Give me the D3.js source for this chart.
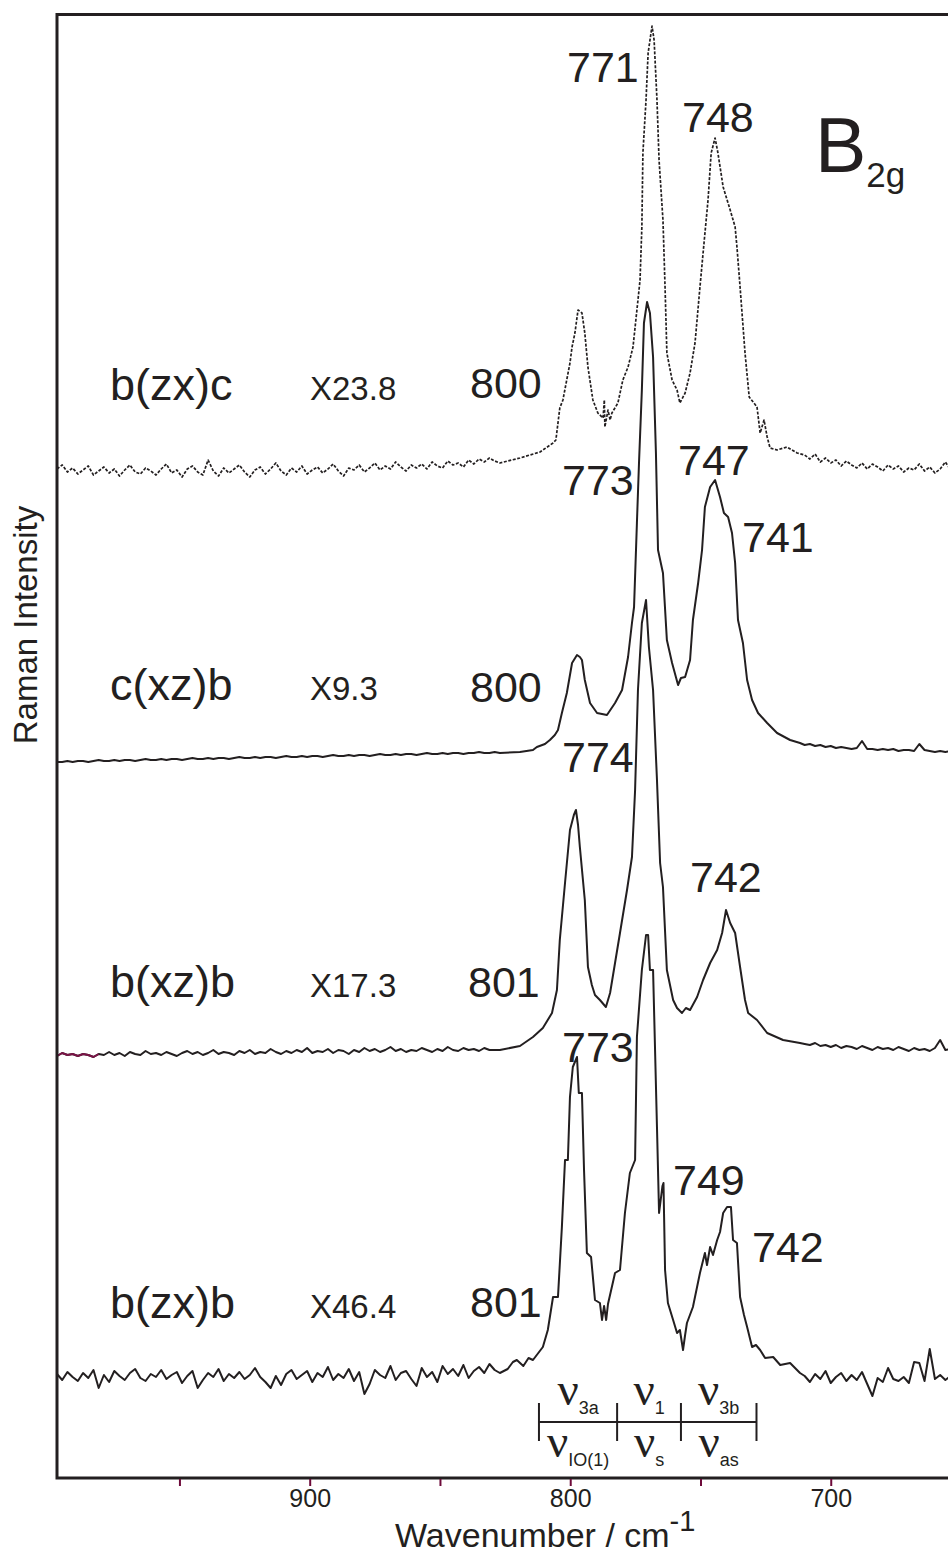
<!DOCTYPE html>
<html>
<head>
<meta charset="utf-8">
<script src="https://cdn.jsdelivr.net/npm/d3@7"></script>
<style>
  body { margin: 0; background: #fff; }
  svg { display: block; font-family: "Liberation Sans", Arial, sans-serif; }
</style>
</head>
<body>
<svg id="chart" width="948" height="1553"></svg>
<script>
// Grilles de nombres d'onde (cm-1) pour les parties plates des spectres
const gridLeft = [997, 995, 993, 991, 989, 987, 985, 983, 981, 979, 977, 975, 973, 971, 969, 967, 965, 963, 961, 959,
  957, 955, 953, 951, 949, 947, 945, 943, 941, 939, 937, 935, 933, 931, 929, 927, 925, 923, 921, 919,
  917, 915, 913, 911, 909, 907, 905, 903, 901, 899, 897, 895, 893, 891, 889, 887, 885, 883, 881, 879,
  877, 875, 873, 871, 869, 867, 865, 863, 861, 859, 857, 855, 853, 851, 849, 847, 845, 843, 841, 839,
  837, 835, 833, 831, 829];
const gridRight = [710, 708, 706, 704, 702, 700, 698, 696, 694, 692, 690, 688, 686, 684, 682, 680, 678, 676, 674, 672,
  670, 668, 666, 664, 662, 660, 658, 656, 654, 652, 650];

// b(zx)c  X23.8 (pointillés)
const zxcLeft = [100.9, 101.3, 100.6, 101.0, 100.4, 100.8, 101.2, 100.3, 100.7, 101.1,
  100.5, 100.9, 100.2, 100.8, 101.3, 100.6, 100.4, 101.0, 100.7, 100.3,
  100.9, 101.4, 100.5, 100.8, 100.1, 100.9, 101.2, 100.6, 100.3, 101.8,
  100.7, 100.2, 101.0, 100.5, 100.9, 101.3, 100.6, 100.1, 100.8, 101.1,
  100.4, 100.9, 101.5, 100.7, 100.3, 101.0, 100.6, 101.2, 100.4, 100.8,
  101.1, 100.5, 100.9, 101.4, 100.7, 100.2, 101.0, 100.8, 101.3, 100.6,
  101.0, 101.5, 100.8, 101.2, 100.9, 101.6, 101.1, 100.7, 101.3, 101.0,
  101.4, 100.9, 101.6, 101.2, 101.0, 101.7, 101.3, 101.5, 101.1, 101.8,
  101.4, 101.9, 101.6, 102.0, 101.7];
const zxcPeaks = [[827.0, 101.5], [819.3, 102.0], [811.6, 102.6], [806.6, 103.5], [805.5, 103.8], [804.0, 107.0],
  [802.8, 107.8], [800.1, 111.5], [799.3, 113.1], [798.2, 114.5], [797.0, 116.8], [795.5, 116.5], [794.4, 114.5],
  [793.2, 111.1], [791.3, 107.8], [789.4, 106.5], [787.4, 106.0], [786.9, 107.8], [786.7, 105.1], [785.5, 106.8],
  [784.7, 105.8], [784.0, 106.5], [781.7, 107.5], [779.8, 109.8], [777.8, 111.1], [775.9, 113.1], [774.4, 116.8],
  [773.2, 119.8], [772.5, 125.1], [772.1, 132.5], [770.9, 137.8], [770.1, 142.5], [768.6, 145.2], [767.8, 143.8],
  [766.7, 137.8], [765.9, 131.8], [764.4, 125.8], [763.6, 119.1], [762.9, 112.5], [760.9, 109.8], [759.0, 108.8],
  [757.9, 107.5], [755.9, 108.5], [754.0, 110.5], [752.1, 113.5], [750.2, 119.1], [749.0, 122.5], [747.1, 127.8],
  [745.9, 132.5], [744.4, 134.0], [743.3, 132.5], [741.3, 129.1], [738.6, 126.8], [736.7, 125.1], [736.0, 123.1],
  [734.8, 119.1], [732.9, 112.5], [731.3, 108.1], [728.3, 107.1], [727.1, 104.5], [725.6, 105.8], [724.4, 104.1],
  [723.3, 103.0], [720.6, 102.8], [716.8, 103.1], [712.9, 102.5]];
const zxcRight = [102.3, 101.9, 102.4, 101.6, 102.0, 101.5, 101.8, 101.2, 101.7, 101.3,
  101.0, 101.5, 100.9, 101.4, 101.1, 100.7, 101.3, 100.9, 101.2, 100.6,
  101.0, 100.8, 101.4, 100.7, 101.1, 100.5, 100.9, 101.6, 100.8, 101.0, 100.7];

// c(xz)b  X9.3
const xzcLeft = [71.6, 71.6, 71.7, 71.6, 71.7, 71.7, 71.6, 71.7, 71.8, 71.7,
  71.7, 71.8, 71.7, 71.8, 71.8, 71.7, 71.8, 71.9, 71.8, 71.8,
  71.9, 71.8, 71.9, 71.9, 71.8, 71.9, 72.0, 71.9, 71.9, 72.0,
  71.9, 72.0, 72.0, 71.9, 72.0, 72.1, 72.0, 72.0, 72.1, 72.0,
  72.1, 72.1, 72.0, 72.1, 72.2, 72.1, 72.1, 72.2, 72.1, 72.2,
  72.2, 72.1, 72.2, 72.3, 72.2, 72.2, 72.3, 72.2, 72.3, 72.3,
  72.2, 72.3, 72.4, 72.3, 72.3, 72.4, 72.3, 72.4, 72.4, 72.3,
  72.4, 72.5, 72.4, 72.4, 72.5, 72.4, 72.5, 72.5, 72.4, 72.5,
  72.5, 72.6, 72.5, 72.5, 72.6];
const xzcPeaks = [[827.0, 72.5], [819.3, 72.6], [814.3, 72.8], [812.8, 73.1], [809.7, 73.4], [807.8, 73.8],
  [805.9, 74.3], [804.7, 74.8], [803.2, 76.5], [801.3, 78.5], [799.3, 81.5], [797.4, 82.3], [796.3, 82.1],
  [795.5, 81.8], [794.4, 79.8], [792.4, 77.5], [789.7, 76.5], [785.9, 76.3], [782.8, 77.5], [780.1, 78.8],
  [777.8, 82.1], [776.3, 85.5], [775.5, 87.1], [774.4, 95.5], [773.6, 101.5], [772.5, 108.8], [771.7, 115.5],
  [770.5, 117.6], [769.4, 116.5], [768.2, 112.1], [767.1, 102.5], [766.3, 92.8], [764.4, 90.5], [762.9, 83.8],
  [760.9, 81.5], [758.6, 79.3], [757.5, 80.0], [755.9, 80.1], [754.0, 81.8], [752.9, 85.8], [750.9, 89.5],
  [749.4, 92.8], [748.3, 97.1], [746.3, 99.1], [744.4, 99.8], [742.5, 98.1], [741.0, 96.5], [739.4, 96.1],
  [737.9, 94.5], [736.7, 91.5], [735.6, 85.8], [733.7, 83.5], [732.1, 79.8], [730.2, 77.8], [727.9, 76.5],
  [724.4, 75.5], [720.6, 74.5], [715.6, 73.8], [711.8, 73.5]];
const xzcRight = [73.3, 73.4, 73.2, 73.3, 73.1, 73.2, 73.0, 73.1, 73.0, 72.9,
  73.0, 73.7, 72.9, 72.9, 72.8, 72.9, 72.8, 72.9, 72.7, 72.8,
  72.8, 72.7, 73.4, 72.8, 72.7, 72.6, 72.7, 72.6, 72.7, 72.6, 72.6];

// b(xz)b  X17.3
const xzbLeft = [42.2, 42.5, 42.3, 42.4, 42.2, 42.4, 42.3, 42.1, 42.4, 42.3,
  42.6, 42.3, 42.5, 42.2, 42.6, 42.4, 42.3, 42.7, 42.4, 42.5,
  42.3, 42.6, 42.4, 42.2, 42.5, 42.7, 42.4, 42.6, 42.3, 42.5,
  42.8, 42.4, 42.6, 42.5, 42.3, 42.7, 42.5, 42.8, 42.4, 42.6,
  42.5, 42.9, 42.6, 42.4, 42.7, 42.5, 42.8, 42.6, 43.0, 42.5,
  42.7, 42.6, 42.9, 42.5, 42.8, 42.7, 42.4, 42.8, 42.6, 43.0,
  42.7, 42.9, 42.6, 42.8, 43.1, 42.7, 42.9, 42.6, 42.8, 42.7,
  43.0, 42.8, 42.6, 42.9, 42.7, 43.1, 42.8, 42.7, 43.0, 42.8,
  42.9, 42.7, 43.0, 42.8, 42.8];
const xzbPeaks = [[827.0, 42.8], [819.3, 43.2], [814.3, 44.1], [810.5, 45.0], [807.0, 46.5], [805.1, 48.8],
  [804.0, 53.8], [802.0, 59.5], [800.1, 64.8], [798.6, 66.3], [797.8, 66.8], [797.0, 65.3], [796.3, 63.1],
  [794.4, 57.8], [793.2, 51.1], [791.7, 49.3], [790.5, 48.3], [788.6, 47.8], [786.3, 47.1], [784.7, 48.5],
  [782.8, 51.5], [780.9, 54.5], [778.2, 58.8], [776.3, 62.1], [775.1, 68.8], [774.0, 78.8], [772.5, 85.5],
  [770.9, 87.8], [769.8, 83.1], [768.2, 78.8], [766.7, 69.8], [765.5, 61.5], [764.4, 59.1], [762.9, 50.8],
  [760.5, 47.8], [759.0, 47.0], [757.1, 46.5], [755.6, 47.0], [754.0, 46.8], [751.3, 48.1], [749.0, 49.8],
  [746.3, 51.5], [743.6, 52.8], [741.7, 54.5], [740.2, 56.8], [738.6, 55.5], [736.7, 54.5], [734.8, 51.1],
  [732.9, 47.8], [731.7, 46.5], [728.3, 45.8], [724.4, 44.5], [718.3, 43.8], [711.8, 43.5]];
const xzbRight = [43.4, 43.3, 43.5, 43.2, 43.3, 43.1, 43.3, 43.0, 43.2, 43.1,
  42.9, 43.2, 43.0, 42.8, 43.1, 42.9, 43.0, 42.8, 43.1, 42.9,
  42.7, 43.0, 42.8, 42.9, 42.7, 43.0, 43.8, 42.8, 42.9, 42.7, 42.8];

// b(zx)b  X46.4
const zxbLeft = [10.4, 9.8, 10.6, 10.1, 9.7, 10.5, 10.0, 10.8, 9.0, 10.3,
  9.6, 10.7, 10.2, 9.8, 10.5, 10.9, 10.0, 9.7, 10.4, 10.1,
  10.8, 9.9, 10.3, 10.6, 9.5, 10.2, 10.7, 9.0, 9.8, 10.5,
  10.1, 10.9, 9.7, 10.4, 10.0, 10.6, 9.9, 10.3, 11.0, 10.1,
  9.6, 9.0, 10.2, 9.3, 10.4, 10.8, 9.9, 10.3, 10.7, 9.6,
  10.5, 10.1, 11.1, 9.8, 10.4, 10.0, 10.9, 9.7, 10.6, 8.4,
  9.4, 10.8, 10.3, 10.0, 11.2, 9.8, 10.5, 10.7, 9.9, 9.2,
  11.0, 10.1, 10.6, 9.6, 11.2, 10.4, 10.9, 10.2, 11.3, 10.0,
  10.7, 11.1, 10.5, 11.4, 10.8];
const zxbPeaks = [[827.0, 10.5], [824.0, 10.9], [822.0, 11.6], [820.5, 11.8], [818.0, 11.2], [816.0, 12.0],
  [814.3, 11.8], [810.5, 13.1], [808.6, 14.8], [806.6, 18.1], [804.7, 18.1], [803.2, 25.1], [802.0, 31.8],
  [800.9, 31.8], [800.1, 38.1], [799.0, 41.1], [797.4, 42.1], [796.7, 38.5], [795.5, 38.5], [794.7, 30.8],
  [793.6, 22.5], [792.0, 22.1], [790.5, 17.8], [788.6, 17.5], [787.8, 15.8], [787.0, 17.2], [786.2, 15.8],
  [785.5, 17.4], [782.8, 20.5], [780.9, 20.8], [779.0, 26.5], [777.1, 30.5], [775.1, 31.8], [774.4, 44.1],
  [772.5, 50.8], [770.9, 54.3], [770.1, 54.3], [769.4, 50.8], [768.2, 50.8], [766.7, 35.1], [765.9, 26.5],
  [764.6, 29.2], [764.2, 29.5], [763.6, 20.8], [762.5, 17.5], [760.5, 15.8], [759.0, 14.5], [757.9, 14.8],
  [756.7, 12.8], [755.9, 14.3], [755.2, 15.5], [752.9, 17.1], [750.2, 20.5], [748.3, 22.5], [747.5, 21.3],
  [746.3, 23.1], [745.2, 22.3], [743.6, 23.8], [742.5, 24.6], [741.3, 26.5], [739.8, 27.1], [738.3, 27.1],
  [737.5, 23.8], [736.0, 23.5], [734.8, 18.1], [733.3, 16.3], [732.1, 15.1], [730.2, 13.1], [728.7, 13.3],
  [727.1, 12.8], [725.2, 12.0], [722.1, 12.1], [719.4, 11.3], [715.6, 11.5], [711.8, 10.5]];
const zxbRight = [10.2, 9.6, 10.4, 9.9, 10.7, 9.5, 10.1, 10.5, 9.7, 10.3,
  9.8, 10.6, 9.4, 8.2, 10.0, 9.6, 11.0, 9.9, 9.7, 10.1,
  9.5, 11.6, 11.5, 9.7, 12.9, 9.9, 10.3, 9.8, 10.2, 9.9, 10.1];

// Étiquettes
const sampleLabels = ["b(zx)c", "c(xz)b", "b(xz)b", "b(zx)b"];
const factorLabels = ["X23.8", "X9.3", "X17.3", "X46.4"];
const tickValues = [950, 900, 850, 800, 750, 700];
const tickLabels = [900, 800, 700];
// limites des domaines ν (cm-1) et indices
const bandBounds = [812, 782, 757.5, 728.5];
const bandTop = ["3a", "1", "3b"];
const bandBottom = ["IO(1)", "s", "as"];

const ink = "#231f20";
const svg = d3.select("#chart");

// Échelles : axe x inversé (nombre d'onde décroissant)
const xScale = d3.scaleLinear().domain([997, 650]).range([57, 961]);
const yScale = d3.scaleLinear().domain([0, 146.4]).range([1478, 14]);

function build(left, peaks, right) {
    return gridLeft.map((w, i) => [w, left[i]])
        .concat(peaks)
        .concat(gridRight.map((w, i) => [w, right[i]]));
}

const line = d3.line()
    .x(d => xScale(d[0]))
    .y(d => yScale(d[1]));

const spectra = [
    { data: build(zxcLeft, zxcPeaks, zxcRight), dash: "3 1.6", width: 1.7 },
    { data: build(xzcLeft, xzcPeaks, xzcRight), dash: null, width: 2 },
    { data: build(xzbLeft, xzbPeaks, xzbRight), dash: null, width: 2 },
    { data: build(zxbLeft, zxbPeaks, zxbRight), dash: null, width: 2 }
];

svg.append("g")
    .selectAll("path")
    .data(spectra)
    .enter().append("path")
    .attr("d", d => line(d.data))
    .attr("fill", "none")
    .attr("stroke", ink)
    .attr("stroke-width", d => d.width)
    .attr("stroke-linejoin", "round")
    .attr("stroke-dasharray", d => d.dash);

// petit morceau bordeaux au début du spectre b(xz)b
svg.append("path")
    .attr("d", line(gridLeft.slice(0, 9).map((w, i) => [w, xzbLeft[i]])))
    .attr("fill", "none")
    .attr("stroke", "#7b1346")
    .attr("stroke-width", 2);

// Cadre
svg.append("rect")
    .attr("x", 57)
    .attr("y", 14.5)
    .attr("width", xScale(650) - 57)
    .attr("height", 1478 - 14.5)
    .attr("fill", "none")
    .attr("stroke", ink)
    .attr("stroke-width", 3);

// Axe x
const xAxis = svg.append("g")
    .attr("transform", "translate(0, 1479)")
    .call(d3.axisBottom(xScale)
        .tickValues(tickValues)
        .tickSize(7)
        .tickFormat(d => tickLabels.includes(d) ? d : ""));

xAxis.select(".domain").remove();
xAxis.selectAll("line")
    .attr("stroke", "#6e0b3b")
    .attr("stroke-width", 2);
xAxis.selectAll("text")
    .attr("fill", ink)
    .style("font-size", "25px")
    .style("font-family", "Liberation Sans, Arial, sans-serif");

// Titre de l'axe x
const xTitle = svg.append("text")
    .attr("x", 395)
    .attr("y", 1547)
    .attr("fill", ink)
    .style("font-size", "34px");
xTitle.append("tspan").text("Wavenumber / cm");
xTitle.append("tspan").attr("dy", -16).style("font-size", "29px").text("-1");

// Titre de l'axe y
svg.append("text")
    .attr("transform", "translate(37, 625) rotate(-90)")
    .attr("text-anchor", "middle")
    .attr("fill", ink)
    .style("font-size", "33px")
    .text("Raman Intensity");

// B2g
const sym = svg.append("text")
    .attr("x", 815)
    .attr("y", 172)
    .attr("fill", ink)
    .style("font-size", "77px");
sym.append("tspan").text("B");
sym.append("tspan").attr("dy", 15).style("font-size", "35px").text("2g");

// Noms des géométries et facteurs
const rowBase = [400, 700, 997, 1318];
svg.append("g")
    .selectAll("text")
    .data(sampleLabels)
    .enter().append("text")
    .attr("x", 110)
    .attr("y", (d, i) => rowBase[i])
    .attr("fill", ink)
    .style("font-size", "45px")
    .text(d => d);

svg.append("g")
    .selectAll("text")
    .data(factorLabels)
    .enter().append("text")
    .attr("x", 310)
    .attr("y", (d, i) => rowBase[i])
    .attr("fill", ink)
    .style("font-size", "33px")
    .text(d => d);

// Étiquettes des pics
const peakText = [
    ["771", 567, 82], ["748", 682, 132], ["800", 470, 398],
    ["773", 562, 495], ["747", 678, 475], ["741", 742, 552], ["800", 470, 702],
    ["774", 562, 772], ["742", 690, 892], ["801", 468, 997],
    ["773", 562, 1062], ["749", 673, 1195], ["742", 752, 1262], ["801", 470, 1317]
];
svg.append("g")
    .selectAll("text")
    .data(peakText)
    .enter().append("text")
    .attr("x", d => d[1])
    .attr("y", d => d[2])
    .attr("fill", ink)
    .style("font-size", "43px")
    .text(d => d[0]);

// Repère des modes ν
const bracket = svg.append("g")
    .attr("stroke", ink)
    .attr("stroke-width", 2);
bracket.append("line")
    .attr("x1", xScale(bandBounds[0]))
    .attr("x2", xScale(bandBounds[bandBounds.length - 1]))
    .attr("y1", 1422)
    .attr("y2", 1422);
bracket.selectAll(".tk")
    .data(bandBounds)
    .enter().append("line")
    .attr("class", "tk")
    .attr("x1", d => xScale(d))
    .attr("x2", d => xScale(d))
    .attr("y1", 1403)
    .attr("y2", 1441);

function nuLabel(sub, i, y) {
    const cx = (xScale(bandBounds[i]) + xScale(bandBounds[i + 1])) / 2;
    const t = svg.append("text")
        .attr("x", cx)
        .attr("y", y)
        .attr("text-anchor", "middle")
        .attr("fill", ink);
    t.append("tspan")
        .style("font-family", "Liberation Serif, serif")
        .style("font-size", "47px")
        .text("ν");
    t.append("tspan")
        .attr("dy", 9)
        .style("font-size", "18px")
        .text(sub);
}
bandTop.forEach((s, i) => nuLabel(s, i, 1405));
bandBottom.forEach((s, i) => nuLabel(s, i, 1457));
</script>
</body>
</html>
